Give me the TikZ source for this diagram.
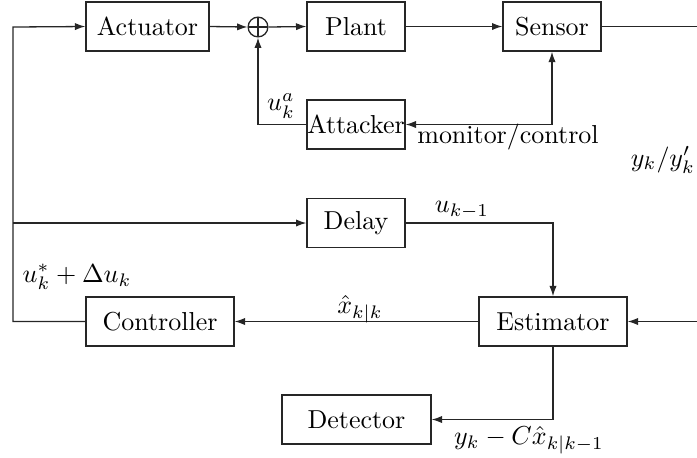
\documentclass[tikz,border=0pt]{standalone}
\usetikzlibrary{arrows.meta}
\begin{document}
\begin{tikzpicture}[x=0.385pt,y=-0.385pt,
  line width=0.5pt, draw=black!85,
  tip/.style={-{Latex[length=4pt,width=2.8pt]}},
  dtip/.style={{Latex[length=4pt,width=2.8pt]}-{Latex[length=4pt,width=2.8pt]}},
  blk/.style={draw, rectangle, inner sep=0pt, minimum height=18.9pt, font=\fontsize{10}{12}\selectfont},
  sumnode/.style={draw, circle, inner sep=0pt, minimum size=7.6pt,
    path picture={\draw[line width=0.5pt] (path picture bounding box.north) -- (path picture bounding box.south)
      (path picture bounding box.west) -- (path picture bounding box.east);}},
  lbl/.style={inner sep=0pt, font=\fontsize{10}{12}\selectfont}]
\useasboundingbox (0,0) rectangle (697,457);
% blocks
\node[blk, minimum width=47.4pt] (act) at (147.5,26.5) {Actuator};
\node[sumnode] (sum) at (258,27) {};
\node[blk, minimum width=37.7pt] (plant) at (356,26.5) {Plant};
\node[blk, minimum width=37.7pt] (sens) at (552,26.5) {Sensor};
\node[blk, minimum width=37.7pt] (att) at (356,124.5) {Attacker};
\node[blk, minimum width=37.7pt] (delay) at (356,223) {Delay};
\node[blk, minimum width=57pt] (ctrl) at (160,321.5) {Controller};
\node[blk, minimum width=57pt] (est) at (553,321.5) {Estimator};
\node[blk, minimum width=57.4pt] (det) at (356.5,419.5) {Detector};
% coordinates
\coordinate (l1) at (13,27);
\coordinate (l2) at (13,321.5);
\coordinate (l3) at (13,223);
\coordinate (r1) at (705,26.5);
\coordinate (r2) at (705,321.5);
% connectors
\draw[tip] (act.east) -- (sum.west);
\draw[tip] (sum.east) -- (plant.west);
\draw[tip] (plant.east) -- (sens.west);
\draw[tip] (att.west) -| (sum.south);
\draw[dtip] (att.east) -| (sens.south);
\draw[tip] (sens.east) -- (r1) -- (r2) -- (est.east);
\draw[tip] (delay.east) -| (est.north);
\draw[tip] (est.west) -- (ctrl.east);
\draw[tip] (est.south) |- (det.east);
\draw[tip] (ctrl.west) -- (l2) -- (l1) -- (act.west);
\draw[tip] (l3) -- (delay.west);
% labels
\node[lbl] (la) at (281,106) {$u_k^a$};
\node[lbl] (lm) at (508,137) {monitor/control};
\node[lbl] (ly) at (663,160) {$y_k/y'_k$};
\node[lbl] (lu) at (462,210) {$u_{k-1}$};
\node[lbl] (lx) at (360,309) {$\hat{x}_{k|k}$};
\node[lbl] (lc) at (77,277) {$u_k^*+\Delta u_k$};
\node[lbl] (ld) at (529,440) {$y_k-C\hat{x}_{k|k-1}$};
\end{tikzpicture}
\end{document}
